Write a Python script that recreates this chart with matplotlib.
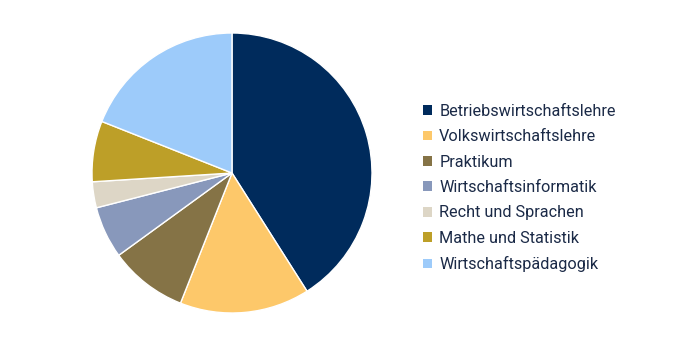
import matplotlib
matplotlib.use("Agg")
import matplotlib.pyplot as plt
from matplotlib.patches import Patch

plt.rcParams['font.family'] = ['Roboto', 'DejaVu Sans']

categories = [
    "Betriebswirtschaftslehre",
    "Volkswirtschaftslehre",
    "Praktikum",
    "Wirtschaftsinformatik",
    "Recht und Sprachen",
    "Mathe und Statistik",
    "Wirtschaftspädagogik",
]
shares = [41, 15, 9, 6, 3, 7, 19]
colors = ["#002b5c", "#fdc86a", "#857346", "#8898bb", "#ddd6c6", "#bd9f28", "#9dcbfa"]

fig = plt.figure(figsize=(6.8, 3.4), dpi=100)
ax = fig.add_axes([92 / 680, 27 / 340, 280 / 680, 280 / 340])
ax.pie(shares, colors=colors, startangle=90, counterclock=False,
       wedgeprops=dict(edgecolor="white", linewidth=1.0), radius=1.0)
ax.set_xlim(-1.0, 1.0)
ax.set_ylim(-1.0, 1.0)
ax.axis("off")

handles = [Patch(facecolor=c, edgecolor="none") for c in colors]
leg = fig.legend(handles, categories, loc="center left",
                 bbox_to_anchor=(423 / 680, 1 - 188 / 340),
                 frameon=False, fontsize=11.7,
                 handlelength=0.55, handleheight=0.55, handletextpad=0.45,
                 labelspacing=0.64, borderaxespad=0, borderpad=0)
for t in leg.get_texts():
    t.set_color("#1b2a47")

fig.savefig("out.png", dpi=100, facecolor="white")
